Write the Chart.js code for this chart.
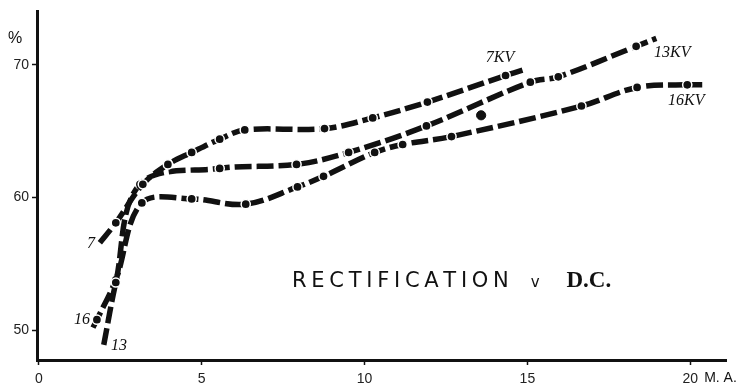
<!DOCTYPE html>
<html>
<head>
<meta charset="utf-8">
<script src="https://cdn.jsdelivr.net/npm/chart.js@4.4.1/dist/chart.umd.min.js"></script>
<style>
  html, body { margin: 0; padding: 0; background: #fff; }
  #wrap { width: 749px; height: 387px; position: relative; }
</style>
</head>
<body>
<div id="wrap"><canvas id="rectChart"></canvas></div>
<script>
// D.C. current (M.A.) and rectification (%)
const ma7kv = [1.87, 2.36, 3.19, 3.96, 4.69, 5.55, 6.32, 8.77, 10.25, 11.93, 14.33, 14.85];
const pct7kv = [56.6, 58.1, 61.0, 62.5, 63.4, 64.4, 65.1, 65.2, 66.0, 67.2, 69.2, 69.6];

const ma13kv = [1.99, 2.36, 3.10, 5.55, 7.91, 9.51, 11.90, 15.09, 15.95, 18.34, 18.96];
const pct13kv = [48.9, 53.6, 61.0, 62.2, 62.5, 63.4, 65.4, 68.7, 69.1, 71.4, 72.0];

// stray reading below the 13KV curve
const ma13kvExtra = [13.58];
const pct13kvExtra = [66.2];

const ma16kv = [1.66, 1.78, 2.36, 3.16, 4.69, 6.35, 7.94, 8.74, 10.31, 11.17, 12.67, 16.66, 18.37, 19.91, 20.37];
const pct16kv = [50.2, 50.8, 53.8, 59.6, 59.9, 59.5, 60.8, 61.6, 63.4, 64.0, 64.6, 66.9, 68.3, 68.5, 68.5];

const xTicks = [0, 5, 10, 15, 20];
const yTicks = [50, 60, 70];

// curve labels written on the figure
const curveNotes = [
  { text: '7KV', x: 14.16, y: 70.5 },
  { text: '13KV', x: 19.45, y: 70.9 },
  { text: '16KV', x: 19.88, y: 67.3 },
  { text: '7', x: 1.60, y: 56.5 },
  { text: '16', x: 1.32, y: 50.8 },
  { text: '13', x: 2.46, y: 48.8 }
];

const INK = '#111';

function toPoints(xs, ys) {
  return xs.map((x, i) => ({ x: x, y: ys[i] }));
}

// dots on every reading except the loose dash ends
function dotRadius(ctx) {
  const n = ctx.dataset.data.length;
  return (ctx.dataIndex === 0 || ctx.dataIndex === n - 1) ? 0 : 4.6;
}

function curve(label, xs, ys) {
  return {
    label: label,
    data: toPoints(xs, ys),
    showLine: true,
    borderColor: INK,
    borderWidth: 5.5,
    borderDash: [17, 5],
    borderCapStyle: 'butt',
    tension: 0.35,
    pointRadius: dotRadius,
    pointBackgroundColor: INK,
    pointBorderColor: '#fff',
    pointBorderWidth: 1.5
  };
}

// draws the free text: curve names, title, % and M.A.
const textPlugin = {
  id: 'figureText',
  afterDatasetsDraw(chart) {
    const ctx = chart.ctx;
    const xs = chart.scales.x;
    const ys = chart.scales.y;
    ctx.save();
    ctx.fillStyle = INK;
    ctx.textAlign = 'center';
    ctx.textBaseline = 'middle';

    ctx.font = 'italic 16px "Liberation Serif"';
    curveNotes.forEach(n => {
      ctx.fillText(n.text, xs.getPixelForValue(n.x), ys.getPixelForValue(n.y));
    });

    // title, spread out like the original lettering
    const cy = ys.getPixelForValue(53.7);
    const word = 'RECTIFICATION';
    const x0 = xs.getPixelForValue(7.77);
    const x1 = xs.getPixelForValue(14.38);
    ctx.font = '21px "DejaVu Sans"';
    ctx.textAlign = 'left';
    const plain = ctx.measureText(word).width;
    const gap = (x1 - x0 - plain) / (word.length - 1);
    let cx = x0;
    for (const ch of word) {
      ctx.fillText(ch, cx, cy);
      cx += ctx.measureText(ch).width + gap;
    }
    ctx.font = '15px "DejaVu Sans"';
    ctx.fillText('v', xs.getPixelForValue(15.1), cy + 2);
    ctx.font = 'bold 23px "Liberation Serif"';
    ctx.fillText('D.C.', xs.getPixelForValue(16.2), cy);

    ctx.font = '16px "Liberation Sans"';
    ctx.textAlign = 'center';
    ctx.fillText('%', chart.chartArea.left - 22, ys.getPixelForValue(72));
    ctx.font = '14px "Liberation Sans"';
    ctx.textAlign = 'left';
    ctx.fillText('M. A.', xs.getPixelForValue(20) + 14, chart.chartArea.bottom + 18);
    ctx.restore();
  }
};

window.onload = () => {
  const ctx = document.getElementById('rectChart').getContext('2d');
  new Chart(ctx, {
    type: 'scatter',
    data: {
      datasets: [
        curve('7KV', ma7kv, pct7kv),
        curve('13KV', ma13kv, pct13kv),
        curve('16KV', ma16kv, pct16kv),
        {
          label: '13KV extra',
          data: toPoints(ma13kvExtra, pct13kvExtra),
          showLine: false,
          pointRadius: 4.6,
          pointBackgroundColor: INK,
          pointBorderColor: INK
        }
      ]
    },
    plugins: [textPlugin],
    options: {
      responsive: true,
      maintainAspectRatio: false,
      animation: false,
      devicePixelRatio: 1,
      layout: { padding: { top: 8, right: 23, left: 0, bottom: 0 } },
      plugins: {
        legend: { display: false },
        tooltip: { enabled: false }
      },
      scales: {
        x: {
          type: 'linear',
          min: -0.06,
          max: 21.1,
          afterFit: s => { s.height = 27; },
          afterBuildTicks: s => { s.ticks = xTicks.map(v => ({ value: v })); },
          border: { display: true, color: INK, width: 3 },
          grid: { drawOnChartArea: false, drawTicks: true, tickLength: 5, tickColor: INK, tickWidth: 1.5 },
          ticks: { color: '#222', padding: 6, font: { family: 'Liberation Sans', size: 14 } }
        },
        y: {
          type: 'linear',
          min: 47.76,
          max: 74.03,
          afterFit: s => { s.width = 37; },
          afterBuildTicks: s => { s.ticks = yTicks.map(v => ({ value: v })); },
          border: { display: true, color: INK, width: 3 },
          grid: { drawOnChartArea: false, drawTicks: true, tickLength: 5, tickColor: INK, tickWidth: 1.5 },
          ticks: { color: '#222', padding: 3, font: { family: 'Liberation Sans', size: 14 } }
        }
      }
    }
  });
};
</script>
</body>
</html>
